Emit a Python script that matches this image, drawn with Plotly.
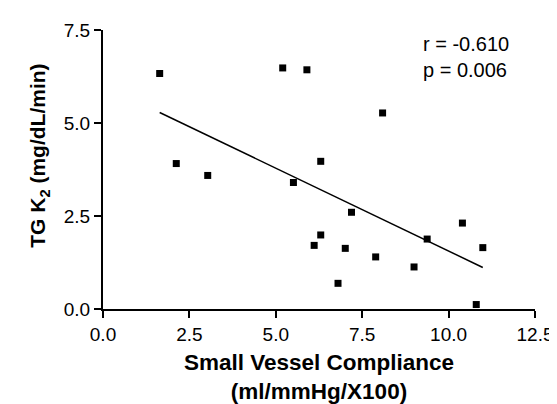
import numpy as np
import plotly.graph_objects as go

# Data
compliance = [1.64, 2.12, 3.03, 5.20, 5.90, 5.51, 6.30, 8.09, 7.19, 6.30,
              6.11, 7.01, 7.89, 6.80, 9.00, 9.38, 10.40, 10.99, 10.80]
tg_k2 = [6.33, 3.91, 3.59, 6.48, 6.43, 3.40, 3.97, 5.27, 2.60, 1.99,
         1.71, 1.63, 1.40, 0.69, 1.13, 1.88, 2.31, 1.65, 0.12]
x_ticks = [0.0, 2.5, 5.0, 7.5, 10.0, 12.5]
y_ticks = [0.0, 2.5, 5.0, 7.5]
stats_text = "r = -0.610<br>p = 0.006"

# Linear regression line over the data range
slope, intercept = np.polyfit(compliance, tg_k2, 1)
fit_x = np.array([min(compliance), max(compliance)])
fit_y = slope * fit_x + intercept

FONT = "Liberation Sans, Arial, Helvetica, sans-serif"

fig = go.Figure()
fig.add_trace(go.Scatter(
    x=fit_x, y=fit_y, mode="lines",
    line=dict(color="black", width=1.5), showlegend=False, hoverinfo="skip"))
fig.add_trace(go.Scatter(
    x=compliance, y=tg_k2, mode="markers",
    marker=dict(symbol="square", size=7, color="black"), showlegend=False))

axis_common = dict(
    showgrid=False, zeroline=False, showline=True, linecolor="black", linewidth=2,
    ticks="outside", ticklen=7, tickwidth=2, tickcolor="black",
    tickfont=dict(family=FONT, size=19, color="black"),
)

fig.update_layout(
    width=557, height=404,
    margin=dict(l=95, r=27, t=19, b=102),
    plot_bgcolor="white", paper_bgcolor="white",
    xaxis=dict(range=[0, 12.5], tickvals=x_ticks, ticktext=[f"{v:.1f}" for v in x_ticks],
               title=dict(text="<b>Small Vessel Compliance<br>(ml/mmHg/X100)</b>",
                          font=dict(family=FONT, size=22.5, color="black"), standoff=10),
               **axis_common),
    yaxis=dict(range=[0, 7.5], tickvals=y_ticks, ticktext=[f"{v:.1f}" for v in y_ticks],
               **axis_common),
    annotations=[
        dict(text=stats_text, x=0.735, y=0.905, xref="paper", yref="paper",
             xanchor="left", yanchor="middle", align="left", showarrow=False,
             font=dict(family=FONT, size=20, color="black")),
        dict(text="<b>TG K<sub>2</sub> (mg/dL/min)</b>", textangle=-90,
             x=-0.147, y=0.551, xref="paper", yref="paper",
             xanchor="center", yanchor="middle", showarrow=False,
             font=dict(family=FONT, size=21, color="black")),
    ],
)

fig.write_html("out.html")
